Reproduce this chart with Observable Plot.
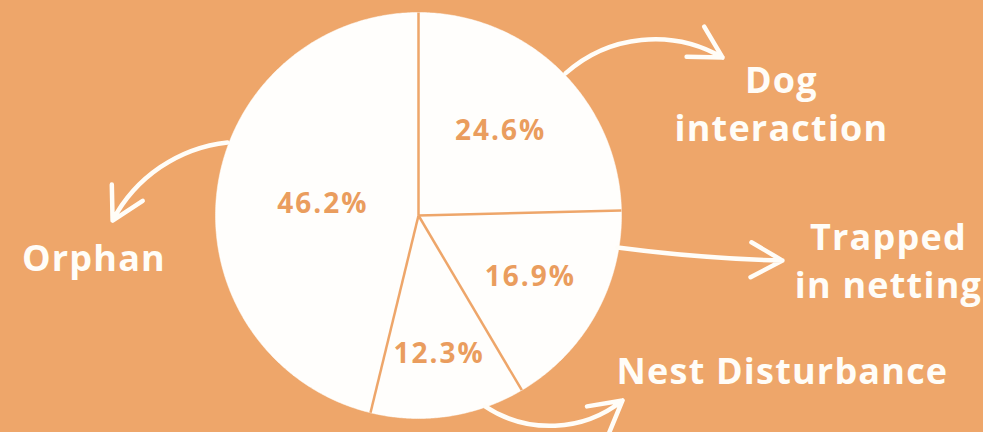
<!DOCTYPE html>
<html><head><meta charset="utf-8">
<script src="https://cdn.jsdelivr.net/npm/d3@7"></script>
<script src="https://cdn.jsdelivr.net/npm/@observablehq/plot@0.6"></script>
<style>
html,body{margin:0;padding:0;background:#EEA66A;overflow:hidden}
#chart svg{display:block}
</style></head><body><div id="chart"></div>
<script>
// ---- data ----
const categories = ["Dog interaction", "Trapped in netting", "Nest Disturbance", "Orphan"];
const shares = [24.6, 16.9, 12.3, 46.2];
const valueLabels = ["24.6%", "16.9%", "12.3%", "46.2%"];
const calloutLabels = ["Dog\ninteraction", "Trapped\nin netting", "Nest Disturbance", "Orphan"];

// ---- layout (units of pie radius, pie centre at 0,0) ----
const W = 983, H = 432, CX = 418, CY = 215, R = 203;
const labelRadius = [0.58, 0.63, 0.69, 0.475];
const calloutX = [1.788, 2.315, 1.793, -1.599];
const calloutY = [0.369, -0.404, -0.828, -0.271];
const arrowPaths = [
  {x1: 0.724, y1: 0.700, x2: 1.498, y2: 0.778, bend: 36},
  {x1: 0.980, y1: -0.158, x2: 1.793, y2: -0.222, bend: -3},
  {x1: 0.330, y1: -0.941, x2: 1.005, y2: -0.911, bend: -36},
  {x1: -0.941, y1: 0.360, x2: -1.507, y2: -0.025, bend: -28}
];

const BG = "#EEA66A", PIE = "#fffefc", PCT = "#EA9D5E", FONT = "'Open Sans', sans-serif";

const arcs = d3.pie().sort(null).value(d => d)(shares);
const slicePts = arcs.flatMap((a, i) => {
  const n = Math.max(2, Math.ceil((a.endAngle - a.startAngle) / (Math.PI / 360)));
  const pts = [{i, x: 0, y: 0}];
  for (let k = 0; k <= n; k++) {
    const t = a.startAngle + (a.endAngle - a.startAngle) * k / n;
    pts.push({i, x: Math.sin(t), y: Math.cos(t)});
  }
  return pts;
});
const pctData = arcs.map((a, i) => {
  const m = (a.startAngle + a.endAngle) / 2;
  return {label: valueLabels[i], x: labelRadius[i] * Math.sin(m), y: labelRadius[i] * Math.cos(m)};
});
const calloutData = calloutLabels.map((t, i) => ({label: t, cat: categories[i], x: calloutX[i], y: calloutY[i]}));

const chart = Plot.plot({
  width: W, height: H, margin: 0,
  x: {domain: [-CX / R, (W - CX) / R], axis: null},
  y: {domain: [-(H - CY) / R, CY / R], axis: null},
  style: {background: BG, overflow: "visible"},
  marks: [
    Plot.line(slicePts, {x: "x", y: "y", z: "i", fill: PIE, stroke: PIE, strokeWidth: 0.5, curve: "linear"}),
    Plot.link(arcs, {x1: 0, y1: 0, x2: d => Math.sin(d.startAngle), y2: d => Math.cos(d.startAngle), stroke: BG, strokeWidth: 2.5}),
    Plot.text(pctData, {x: "x", y: "y", text: "label", fill: PCT, fontSize: 28, fontWeight: 700, fontFamily: FONT, textAnchor: "middle", lineAnchor: "middle"}),
    ...arrowPaths.map(a => Plot.arrow([a], {x1: "x1", y1: "y1", x2: "x2", y2: "y2", bend: a.bend, stroke: "#fffdf8", strokeWidth: 4.5, headAngle: 58, headLength: 12})),
    Plot.text(calloutData, {x: "x", y: "y", text: "label", fill: "#fffdf8", fontSize: 36, fontWeight: 700, fontFamily: FONT, textAnchor: "middle", lineAnchor: "bottom", lineHeight: 1.33})
  ]
});
const textGroups = chart.querySelectorAll('g[aria-label="text"]');
if (textGroups[0]) textGroups[0].style.letterSpacing = "2px";
if (textGroups[1]) textGroups[1].style.letterSpacing = "1.2px";
document.getElementById("chart").appendChild(chart);
</script>
</body></html>
